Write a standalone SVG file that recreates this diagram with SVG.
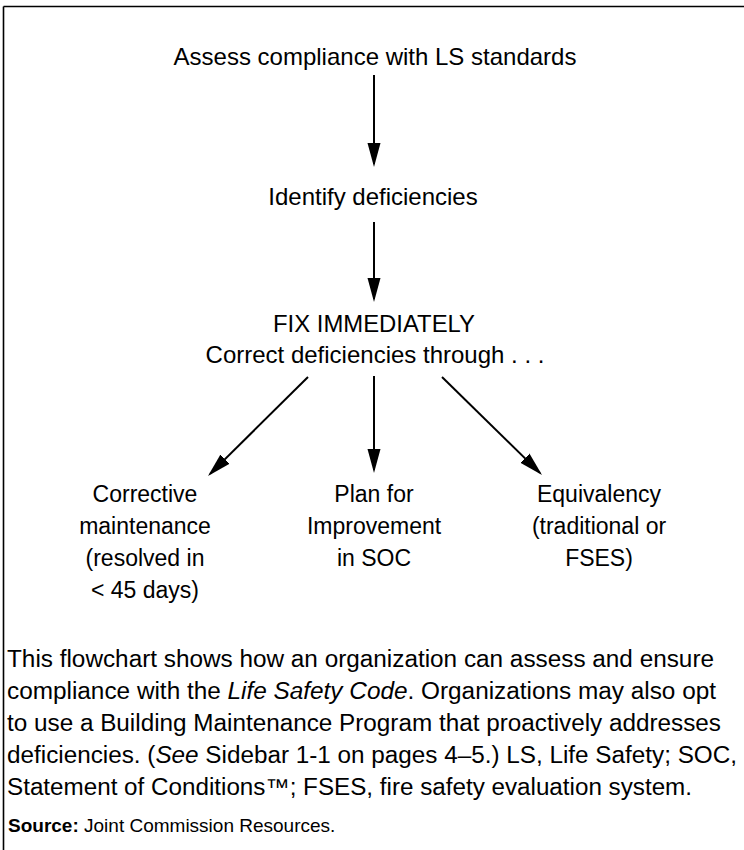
<svg xmlns="http://www.w3.org/2000/svg" width="744" height="850" viewBox="0 0 744 850">
  <style>
    .t { font-family: "Liberation Sans", Arial, sans-serif; fill: #000; }
    .top { font-size: 24px; text-anchor: middle; }
    .lbl { font-size: 23px; text-anchor: middle; }
    .cap { font-size: 23px; }
    .src { font-size: 19px; }
    .edge { stroke: #000; stroke-width: 2; fill: none; marker-end: url(#ah); }
    .frame { stroke: #000; stroke-width: 1.6; fill: none; }
  </style>
  <defs>
    <marker id="ah" markerUnits="userSpaceOnUse" markerWidth="26" markerHeight="16" viewBox="0 -8 26 16" refX="21" refY="0" orient="auto">
      <path d="M0,-6.5 L24,0 L0,6.5 z" fill="#000"/>
    </marker>
  </defs>
  <rect width="744" height="850" fill="#fff"/>

  <g id="frame">
    <line class="frame" x1="3.5" y1="6.5" x2="744" y2="6.5"/>
    <line class="frame" x1="3.5" y1="6.5" x2="3.5" y2="850"/>
  </g>

  <g id="n-assess">
    <text class="t top" x="375" y="65">Assess compliance with LS standards</text>
  </g>
  <g id="n-identify">
    <text class="t top" x="373" y="205">Identify deficiencies</text>
  </g>
  <g id="n-fix">
    <text class="t top" x="374" y="332" textLength="202" lengthAdjust="spacingAndGlyphs">FIX IMMEDIATELY</text>
    <text class="t top" x="375" y="363">Correct deficiencies through . . .</text>
  </g>
  <g id="n-corrective">
    <text class="t lbl" x="145" y="502">Corrective</text>
    <text class="t lbl" x="145" y="534">maintenance</text>
    <text class="t lbl" x="145" y="566">(resolved in</text>
    <text class="t lbl" x="145" y="598">&lt; 45 days)</text>
  </g>
  <g id="n-plan">
    <text class="t lbl" x="374" y="502">Plan for</text>
    <text class="t lbl" x="374" y="534">Improvement</text>
    <text class="t lbl" x="374" y="566">in SOC</text>
  </g>
  <g id="n-equiv">
    <text class="t lbl" x="599" y="502">Equivalency</text>
    <text class="t lbl" x="599" y="534">(traditional or</text>
    <text class="t lbl" x="599" y="566">FSES)</text>
  </g>

  <g id="connectors">
    <line class="edge" x1="374" y1="75" x2="374" y2="164"/>
    <line class="edge" x1="374" y1="222" x2="374" y2="299"/>
    <line class="edge" x1="308" y1="377" x2="210.1" y2="473.9"/>
    <line class="edge" x1="374" y1="376" x2="374" y2="470"/>
    <line class="edge" x1="442" y1="377" x2="539.9" y2="472.9"/>
  </g>

  <g id="caption">
    <text class="t cap" x="7" y="667" textLength="707" lengthAdjust="spacingAndGlyphs">This flowchart shows how an organization can assess and ensure</text>
    <text class="t cap" x="7" y="699" textLength="709" lengthAdjust="spacingAndGlyphs">compliance with the <tspan font-style="italic">Life Safety Code</tspan>. Organizations may also opt</text>
    <text class="t cap" x="7" y="731" textLength="714" lengthAdjust="spacingAndGlyphs">to use a Building Maintenance Program that proactively addresses</text>
    <text class="t cap" x="7" y="763" textLength="730" lengthAdjust="spacingAndGlyphs">deficiencies. (<tspan font-style="italic">See</tspan> Sidebar 1-1 on pages 4–5.) LS, Life Safety; SOC,</text>
    <text class="t cap" x="7" y="795" textLength="685" lengthAdjust="spacingAndGlyphs">Statement of Conditions™; FSES, fire safety evaluation system.</text>
    <text class="t src" x="8" y="832"><tspan font-weight="bold">Source:</tspan> Joint Commission Resources.</text>
  </g>
</svg>
